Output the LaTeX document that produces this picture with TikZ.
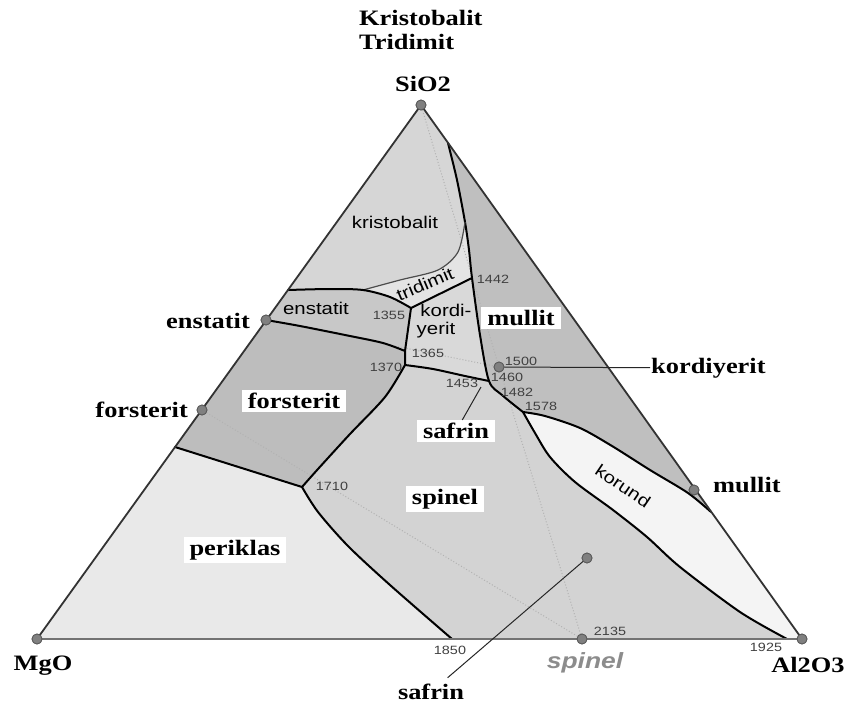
\documentclass[tikz,border=0pt]{standalone}
\usepackage{fontspec}
\setmainfont{Liberation Serif}[FakeStretch=1.2]
\setsansfont{Liberation Sans}[FakeStretch=1.2]

\definecolor{spinC}{HTML}{D3D3D3}
\definecolor{perikC}{HTML}{E9E9E9}
\definecolor{forstC}{HTML}{BDBDBD}
\definecolor{enstC}{HTML}{C8C8C8}
\definecolor{kordC}{HTML}{D9D9D9}
\definecolor{tridC}{HTML}{E4E4E4}
\definecolor{kristC}{HTML}{D6D6D6}
\definecolor{mullC}{HTML}{BFBFBF}
\definecolor{korC}{HTML}{F4F4F4}
\definecolor{dotC}{HTML}{808080}
\definecolor{spinelgray}{HTML}{8C8C8C}

\tikzset{
    bound/.style={line width=2pt, black, line join=round, line cap=round},
    phase/.style={font=\bfseries\fontsize{22}{24}\selectfont, inner sep=1pt},
    phasebox/.style={phase, fill=white, inner xsep=6pt, inner ysep=3pt},
    region/.style={font=\sffamily\fontsize{17}{19}\selectfont, inner sep=0pt},
    temp/.style={font=\sffamily\fontsize{12}{13}\selectfont, text=black!75, inner sep=0pt},
    comp/.style={circle, fill=dotC, draw=black!65, line width=0.8pt, minimum size=10pt, inner sep=0pt},
    compline/.style={dotted, line width=1pt, black!30},
}

\begin{document}
\begin{tikzpicture}[x=1pt, y=-1pt]
    \useasboundingbox (0,0) rectangle (852,704);
    \fill[white] (0,0) rectangle (852,704);

    % fields
    \fill[spinC] (421,105) -- (37,639) -- (802,639) -- cycle;
    \fill[perikC] (37,639) -- (175,447) -- (302,487) -- plot[smooth] coordinates {(302,487) (318,512) (348,546) (390,585) (452,639)} -- cycle;
    \fill[forstC] (175,447) -- (266,320) -- plot[smooth] coordinates {(266,320) (300,326) (350,336) (383,343) (405,351)} -- (405,365)
        -- plot[smooth] coordinates {(405,365) (385,397) (350,434) (318,469) (302,487)} -- cycle;
    \fill[enstC] (288,290) -- plot[smooth] coordinates {(288,290) (330,289) (363,290) (390,297) (411,308)} -- (405,351)
        -- plot[smooth] coordinates {(405,351) (383,343) (350,336) (300,326) (266,320)} -- cycle;
    \fill[kordC] (411,308) -- (472,278) -- plot[smooth] coordinates {(472,278) (480,335) (489,381)}
        -- plot[smooth] coordinates {(489,381) (465,376) (433,369) (405,365)} -- (405,351) -- cycle;
    \fill[tridC] plot[smooth] coordinates {(363,290) (400,280) (438,270) (458,252) (465,222)} -- (469,250) -- (472,278) -- (411,308)
        -- plot[smooth] coordinates {(411,308) (390,297) (363,290)} -- cycle;
    \fill[kristC] (421,105) -- (448,143) -- plot[smooth] coordinates {(448,143) (457,180) (465,222)}
        -- plot[smooth] coordinates {(465,222) (458,252) (438,270) (400,280) (363,290)} -- (288,290) -- cycle;
    \fill[mullC] (448,143) -- plot[smooth] coordinates {(448,143) (457,180) (465,222) (469,250) (472,278) (480,335) (489,381)}
        -- plot[smooth] coordinates {(489,381) (502,395) (523,412)}
        -- plot[smooth] coordinates {(523,412) (545,416) (580,428) (612,446) (650,470) (688,493) (711,512)} -- cycle;
    \fill[korC] plot[smooth] coordinates {(523,412) (545,416) (580,428) (612,446) (650,470) (688,493) (711,512)} -- (802,639)
        -- plot[smooth] coordinates {(787,639) (740,612) (680,567) (647,537) (613,510) (575,482) (550,457) (535,433) (523,412)} -- cycle;

    % composition points
    \node[comp] (sio2dot) at (421,105) {};
    \node[comp] (mgodot) at (37,639) {};
    \node[comp] (al2o3dot) at (802,639) {};
    \node[comp] (enstdot) at (266,320) {};
    \node[comp] (forstdot) at (202,410) {};
    \node[comp] (mulldot) at (694,490) {};
    \node[comp] (kordot) at (499,367) {};
    \node[comp] (safdot) at (587,558) {};
    \node[comp] (spindot) at (582,639) {};

    \draw[compline] (sio2dot) -- (kordot);
    \draw[compline] (kordot) -- (spindot);
    \draw[compline] (enstdot) -- (kordot);
    \draw[compline] (forstdot) -- (spindot);

    % boundary curves
    \draw[bound] plot[smooth] coordinates {(448,143) (457,180) (465,222) (469,250) (472,278) (480,335) (489,381) (502,395) (523,412)};
    \draw[line width=1.2pt, black!70] plot[smooth] coordinates {(363,290) (400,280) (438,270) (458,252) (465,222)};
    \draw[bound] plot[smooth] coordinates {(288,290) (330,289) (363,290) (390,297) (411,308)};
    \draw[bound] (411,308) -- (472,278);
    \draw[bound] (411,308) -- (405,351) -- (405,365);
    \draw[bound] plot[smooth] coordinates {(266,320) (300,326) (350,336) (383,343) (405,351)};
    \draw[bound] plot[smooth] coordinates {(405,365) (385,397) (350,434) (318,469) (302,487)};
    \draw[bound] (175,447) -- (302,487);
    \draw[bound] plot[smooth] coordinates {(405,365) (433,369) (465,376) (489,381)};
    \draw[bound] plot[smooth] coordinates {(302,487) (318,512) (348,546) (390,585) (452,639)};
    \draw[bound] plot[smooth] coordinates {(523,412) (545,416) (580,428) (612,446) (650,470) (688,493) (711,512)};
    \draw[bound] plot[smooth] coordinates {(523,412) (535,433) (550,457) (575,482) (613,510) (647,537) (680,567) (740,612) (787,639)};

    \draw[line width=1.8pt, black!80, line join=round] (sio2dot.center) -- (mgodot.center);
    \draw[line width=1.8pt, black!80, line join=round] (sio2dot.center) -- (al2o3dot.center);
    \draw[line width=2.2pt, black!55] (mgodot.center) -- (al2o3dot.center);
    \foreach \p in {sio2dot, mgodot, al2o3dot, enstdot, forstdot, mulldot, kordot, safdot, spindot}
        \fill[dotC, draw=black!65, line width=0.8pt] (\p) circle (5pt);

    % labels outside
    \node[phase, anchor=west] (kristxt) at (358,18) {Kristobalit};
    \node[phase, anchor=west] (tridxt) at (358,42) {Tridimit};
    \node[phase] (sio2) at (423,84) {SiO2};
    \node[phase] (mgo) at (43,666) {MgO};
    \node[phase] (al2o3) at (808,665) {Al2O3};
    \node[phase, anchor=east] (enstlbl) at (251,321) {enstatit};
    \node[phase, anchor=east] (forstlbl) at (189,410) {forsterit};
    \node[phase, anchor=west] (kordlbl) at (650,368) {kordiyerit};
    \node[phase, anchor=west] (mulllbl) at (712,485) {mullit};
    \node[phase] (safbot) at (431,692) {safrin};
    \node[font=\sffamily\bfseries\itshape\fontsize{22}{24}\selectfont, text=spinelgray, inner sep=0pt] (spinbot) at (585,663) {spinel};

    % fields labels
    \node[phasebox] (mullin) at (521,318) {mullit};
    \node[phasebox] (forin) at (294,401) {forsterit};
    \node[phasebox] (safin) at (456,431) {safrin};
    \node[phasebox] (spinin) at (445,499) {spinel};
    \node[phasebox] (perin) at (235,550) {periklas};

    \node[region] (kristin) at (395,222) {kristobalit};
    \node[region, rotate=23] (tridin) at (425,284) {tridimit};
    \node[region] (enstin) at (316,308) {enstatit};
    \node[region] (kordin) at (446,310) {kordi-};
    \node[region] (yerin) at (436,330) {yerit};
    \node[region, rotate=-34] (korin) at (623,486) {korund};

    % temperatures
    \node[temp] (t1442) at (493,279) {1442};
    \node[temp] (t1355) at (389,315) {1355};
    \node[temp] (t1365) at (428,353) {1365};
    \node[temp] (t1370) at (386,367) {1370};
    \node[temp] (t1453) at (462,383) {1453};
    \node[temp] (t1460) at (507,377) {1460};
    \node[temp] (t1500) at (521,361) {1500};
    \node[temp] (t1482) at (517,392) {1482};
    \node[temp] (t1578) at (541,406) {1578};
    \node[temp] (t1710) at (332,486) {1710};
    \node[temp] (t1850) at (450,650) {1850};
    \node[temp] (t2135) at (610,631) {2135};
    \node[temp] (t1925) at (766,647) {1925};

    % leaders
    \coordinate (safjoint) at (481,387);
    \draw[line width=1pt, black!85] (kordot) -- (kordlbl);
    \draw[line width=1pt, black!85] (safjoint) -- (safin);
    \draw[line width=1pt, black!85, shorten >=8pt] (safdot) -- (safbot);
\end{tikzpicture}
\end{document}
